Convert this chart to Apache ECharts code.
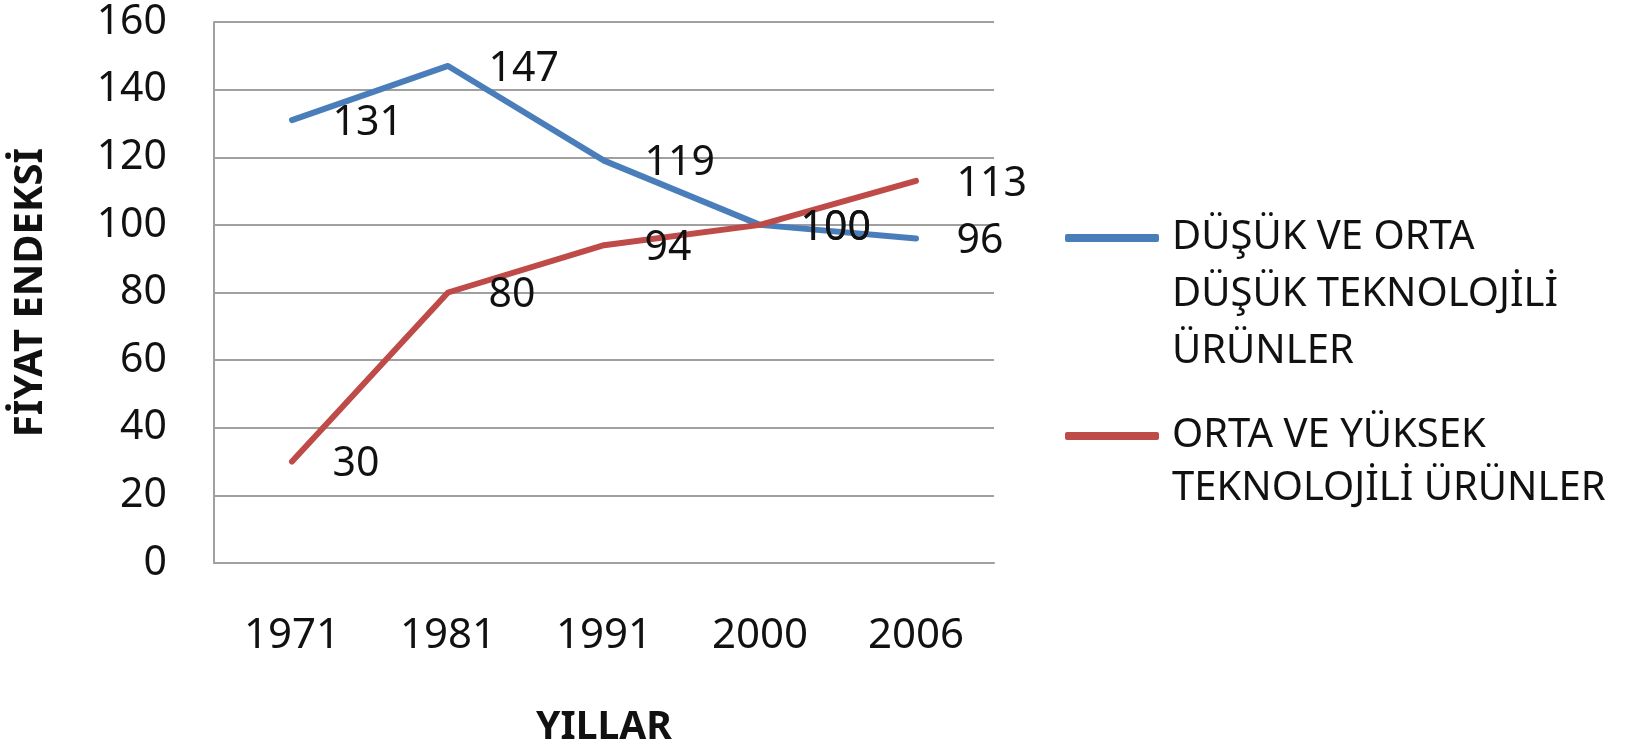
<!DOCTYPE html>
<html>
<head>
<meta charset="utf-8">
<title>Fiyat Endeksi</title>
<script src="https://cdn.jsdelivr.net/npm/echarts@6/dist/echarts.min.js"></script>
<style>
  html, body { margin: 0; padding: 0; background: #fff; }
  #chart { width: 1634px; height: 746px; }
</style>
</head>
<body>
<div id="chart"></div>
<script>
// veriler
var years = ['1971', '1981', '1991', '2000', '2006'];
var dusukOrta = [131, 147, 119, 100, 96];
var ortaYuksek = [30, 80, 94, 100, 113];
var seriesNames = [
  'DÜŞÜK VE ORTA\nDÜŞÜK TEKNOLOJİLİ\nÜRÜNLER',
  'ORTA VE YÜKSEK\nTEKNOLOJİLİ ÜRÜNLER'
];

var FONT = 'Noto Sans';
var myChart = echarts.init(document.getElementById('chart'));

function lineSeries(name, data, color) {
  return {
    name: name,
    type: 'line',
    data: data,
    symbol: 'circle',
    symbolSize: 1,
    itemStyle: { color: color },
    lineStyle: { color: color, width: 6, cap: 'round', join: 'round' },
    label: {
      show: true,
      position: 'right',
      distance: 40,
      offset: [0, 3],
      color: '#111',
      fontFamily: FONT,
      fontSize: 41
    },
    emphasis: { disabled: true },
    animation: false
  };
}

// legend text is centred on the icon, so blank lines are put in front
// to bring the first line of the name level with the icon
function legendFor(name, iconMid, lh) {
  var n = name.split('\n').length;
  var half = (2 * n - 1) * lh / 2;
  return {
    orient: 'vertical',
    left: 1065,
    top: iconMid - half,
    padding: 0,
    icon: 'roundRect',
    itemWidth: 94,
    itemHeight: 8,
    selectedMode: false,
    formatter: function (nm) {
      return new Array(n).join('\n') + nm;
    },
    textStyle: {
      fontFamily: FONT,
      fontSize: 40,
      color: '#111',
      lineHeight: lh,
      padding: [0, 0, 0, 8]
    },
    data: [name]
  };
}

myChart.setOption({
  animation: false,
  grid: { left: 214, right: 640, top: 22, bottom: 183, outerBoundsMode: 'none', containLabel: false },
  legend: [
    legendFor(seriesNames[0], 238, 57),
    legendFor(seriesNames[1], 436, 53)
  ],
  xAxis: {
    type: 'category',
    data: years,
    boundaryGap: true,
    name: 'YILLAR',
    nameLocation: 'middle',
    nameGap: 145,
    nameTextStyle: { fontFamily: FONT, fontSize: 39, fontWeight: 'bold', color: '#111' },
    axisLine: { lineStyle: { color: '#a0a0a0', width: 2 } },
    axisTick: { show: false },
    axisLabel: { fontFamily: FONT, fontSize: 42, color: '#111', margin: 52 }
  },
  yAxis: {
    type: 'value',
    min: 0,
    max: 160,
    interval: 20,
    name: 'FİYAT ENDEKSİ',
    nameLocation: 'middle',
    nameGap: 163,
    nameRotate: 90,
    nameTextStyle: { fontFamily: FONT, fontSize: 40, fontWeight: 'bold', color: '#111' },
    axisLine: { show: true, lineStyle: { color: '#a0a0a0', width: 2 } },
    axisTick: { show: false },
    axisLabel: { fontFamily: FONT, fontSize: 41, color: '#111', margin: 47 },
    splitLine: { lineStyle: { color: '#a0a0a0', width: 2 } }
  },
  series: [
    lineSeries(seriesNames[0], dusukOrta, '#4a7ebb'),
    lineSeries(seriesNames[1], ortaYuksek, '#be4b48')
  ]
});
</script>
</body>
</html>
